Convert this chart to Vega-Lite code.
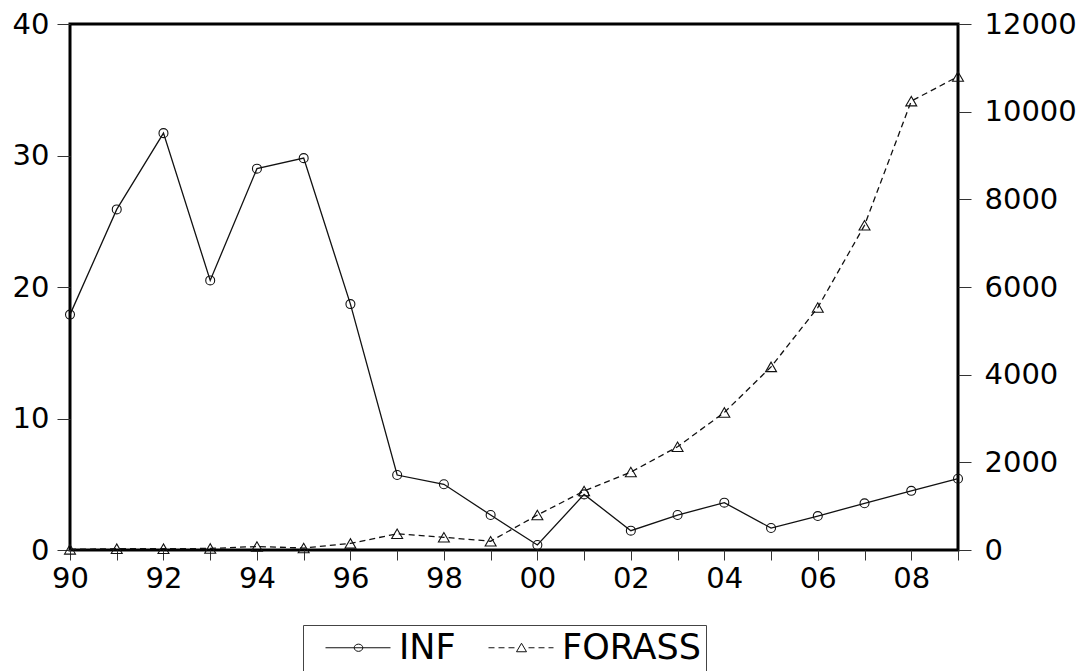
{
  "$schema": "https://vega.github.io/schema/vega-lite/v6.json",
  "width": 888,
  "height": 526,
  "autosize": {"type": "none"},
  "padding": {"left": 70, "top": 24, "right": 133, "bottom": 121},
  "background": "white",
  "config": {
    "view": {"stroke": "black", "strokeWidth": 3},
    "axis": {
      "grid": false,
      "domain": false,
      "title": null,
      "labelFont": "DejaVu Sans",
      "labelFontSize": 29,
      "labelColor": "black",
      "tickColor": "#333",
      "tickWidth": 1,
      "labelOverlap": false,
      "labelFlush": false
    },
    "legend": {
      "labelFont": "DejaVu Sans",
      "labelFontSize": 35,
      "labelColor": "black"
    }
  },
  "datasets": {
    "series": [
      {"year": 1990, "series": "INF", "value": 17.9},
      {"year": 1991, "series": "INF", "value": 25.9},
      {"year": 1992, "series": "INF", "value": 31.7},
      {"year": 1993, "series": "INF", "value": 20.5},
      {"year": 1994, "series": "INF", "value": 29.0},
      {"year": 1995, "series": "INF", "value": 29.8},
      {"year": 1996, "series": "INF", "value": 18.7},
      {"year": 1997, "series": "INF", "value": 5.7},
      {"year": 1998, "series": "INF", "value": 5.0},
      {"year": 1999, "series": "INF", "value": 2.66},
      {"year": 2000, "series": "INF", "value": 0.38},
      {"year": 2001, "series": "INF", "value": 4.23},
      {"year": 2002, "series": "INF", "value": 1.47},
      {"year": 2003, "series": "INF", "value": 2.66},
      {"year": 2004, "series": "INF", "value": 3.6},
      {"year": 2005, "series": "INF", "value": 1.67},
      {"year": 2006, "series": "INF", "value": 2.58},
      {"year": 2007, "series": "INF", "value": 3.55},
      {"year": 2008, "series": "INF", "value": 4.5},
      {"year": 2009, "series": "INF", "value": 5.42},
      {"year": 1990, "series": "FORASS", "value": 15},
      {"year": 1991, "series": "FORASS", "value": 30},
      {"year": 1992, "series": "FORASS", "value": 30},
      {"year": 1993, "series": "FORASS", "value": 35},
      {"year": 1994, "series": "FORASS", "value": 80},
      {"year": 1995, "series": "FORASS", "value": 45},
      {"year": 1996, "series": "FORASS", "value": 150},
      {"year": 1997, "series": "FORASS", "value": 370},
      {"year": 1998, "series": "FORASS", "value": 290},
      {"year": 1999, "series": "FORASS", "value": 200},
      {"year": 2000, "series": "FORASS", "value": 798},
      {"year": 2001, "series": "FORASS", "value": 1345},
      {"year": 2002, "series": "FORASS", "value": 1778},
      {"year": 2003, "series": "FORASS", "value": 2355},
      {"year": 2004, "series": "FORASS", "value": 3138},
      {"year": 2005, "series": "FORASS", "value": 4178},
      {"year": 2006, "series": "FORASS", "value": 5531},
      {"year": 2007, "series": "FORASS", "value": 7407},
      {"year": 2008, "series": "FORASS", "value": 10240},
      {"year": 2009, "series": "FORASS", "value": 10802}
    ]
  },
  "data": {"name": "series"},
  "encoding": {
    "x": {
      "field": "year",
      "type": "quantitative",
      "scale": {"domain": [1990, 2009], "nice": false, "zero": false},
      "axis": {
        "values": [1990, 1991, 1992, 1993, 1994, 1995, 1996, 1997, 1998, 1999, 2000, 2001, 2002, 2003, 2004, 2005, 2006, 2007, 2008, 2009],
        "tickSize": 10,
        "labelPadding": 4,
        "labelExpr": "datum.value % 2 == 0 ? format(datum.value % 100, '02d') : ''"
      }
    }
  },
  "layer": [
    {
      "transform": [{"filter": "datum.series === 'INF'"}],
      "encoding": {
        "y": {
          "field": "value",
          "type": "quantitative",
          "scale": {"domain": [0, 40], "nice": false},
          "axis": {"orient": "left", "values": [0, 10, 20, 30, 40], "tickSize": 13, "labelPadding": 8}
        }
      },
      "layer": [
        {
          "mark": {"type": "line", "color": "#111", "strokeWidth": 1.3}
        },
        {
          "mark": {"type": "point", "shape": "circle", "filled": false, "size": 80, "color": "#111", "strokeWidth": 1.1, "opacity": 1}
        }
      ]
    },
    {
      "transform": [{"filter": "datum.series === 'FORASS'"}],
      "encoding": {
        "y": {
          "field": "value",
          "type": "quantitative",
          "scale": {"domain": [0, 12000], "nice": false},
          "axis": {"orient": "right", "format": "d", "values": [0, 2000, 4000, 6000, 8000, 10000, 12000], "tickSize": 13, "labelPadding": 13}
        }
      },
      "layer": [
        {
          "mark": {"type": "line", "color": "#111", "strokeWidth": 1.3, "strokeDash": [6, 4]}
        },
        {
          "mark": {"type": "point", "shape": "triangle-up", "filled": false, "size": 120, "color": "#111", "strokeWidth": 1.1, "opacity": 1}
        }
      ]
    },
    {
      "transform": [{"filter": "false"}],
      "mark": {"type": "point", "filled": false, "size": 400, "color": "#111", "strokeWidth": 1, "opacity": 1},
      "encoding": {
        "shape": {
          "field": "series",
          "type": "nominal",
          "scale": {
            "domain": ["INF", "FORASS"],
            "range": [
              "M0,0L6.5,0M2.87,0A0.43,0.36 0 1,0 3.73,0A0.43,0.36 0 1,0 2.87,0",
              "M0,0L0.6,0M1.0,0L1.6,0M2.0,0L2.6,0M4.0,0L4.6,0M5.0,0L5.6,0M6.0,0L6.5,0M3.3,-0.45L3.8,0.4L2.8,0.4Z"
            ]
          },
          "legend": {
            "title": null,
            "orient": "none",
            "legendX": 233,
            "legendY": 601,
            "direction": "horizontal",
            "padding": 5,
            "strokeColor": "#444",
            "fillColor": "white",
            "symbolSize": 400,
            "symbolStrokeWidth": 1,
            "symbolStrokeColor": "#111",
            "symbolFillColor": "transparent",
            "labelOffset": 56,
            "columnPadding": 15
          }
        }
      }
    }
  ],
  "resolve": {"scale": {"y": "independent"}}
}
